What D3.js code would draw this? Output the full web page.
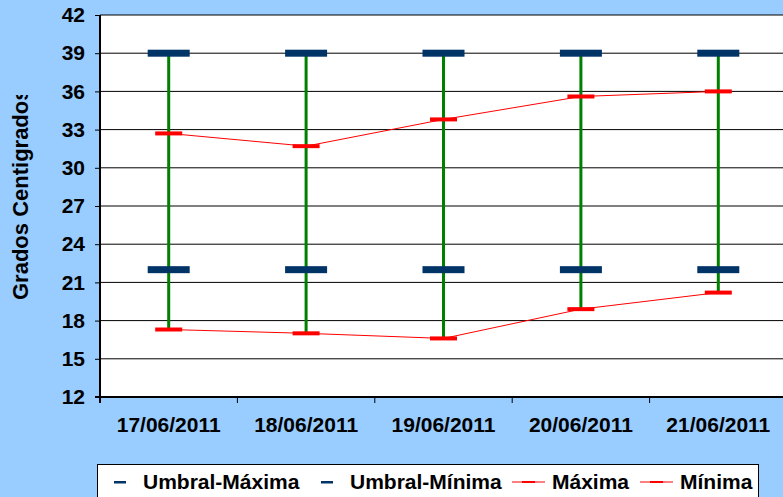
<!doctype html>
<html>
<head>
<meta charset="utf-8">
<script src="https://cdn.jsdelivr.net/npm/d3@7"></script>
<style>
body { margin: 0; background: #99ccff; }
svg { display: block; font-family: "Liberation Sans", Arial, sans-serif; font-weight: bold; }
</style>
</head>
<body>
<div id="chart"></div>
<script>
// chart data
var dates = ["17/06/2011", "18/06/2011", "19/06/2011", "20/06/2011", "21/06/2011"];
var umbralMax = [39, 39, 39, 39, 39];
var umbralMin = [22, 22, 22, 22, 22];
var maxima = [32.7, 31.7, 33.8, 35.6, 36.0];
var minima = [17.3, 17.0, 16.6, 18.9, 20.2];
var yTicks = [12, 15, 18, 21, 24, 27, 30, 33, 36, 39, 42];
var legendLabels = ["Umbral-Máxima", "Umbral-Mínima", "Máxima", "Mínima"];

var W = 783, H = 497;
var margin = {top: 15, left: 100, bottom: 100};
var plotRight = 787;

var svg = d3.select("#chart").append("svg")
    .attr("width", W)
    .attr("height", H);

var x = d3.scaleBand()
    .domain(dates)
    .range([margin.left, plotRight])
    .padding(0);

var y = d3.scaleLinear()
    .domain([12, 42])
    .range([H - margin.bottom, margin.top]);

// plot area
svg.append("rect")
    .attr("x", margin.left)
    .attr("y", margin.top)
    .attr("width", plotRight - margin.left)
    .attr("height", y(12) - margin.top)
    .attr("fill", "#fff");

// gridlines
svg.append("g").selectAll("line")
    .data(yTicks)
  .enter().append("line")
    .attr("x1", margin.left)
    .attr("x2", plotRight)
    .attr("y1", function(d) { return y(d); })
    .attr("y2", function(d) { return y(d); })
    .attr("stroke", "#000")
    .attr("stroke-width", 1);

// y axis
var yAxis = svg.append("g")
    .attr("transform", "translate(" + margin.left + ",0)")
    .call(d3.axisLeft(y).tickValues(yTicks).tickSize(5).tickPadding(10));
yAxis.select(".domain").remove();
yAxis.selectAll("line").attr("stroke", "#000");
yAxis.selectAll("text")
    .style("font-size", "21px")
    .style("font-family", "Liberation Sans, Arial, sans-serif")
    .attr("fill", "#000");

svg.append("line")
    .attr("x1", margin.left).attr("x2", margin.left)
    .attr("y1", margin.top).attr("y2", y(12) + 6)
    .attr("stroke", "#000").attr("stroke-width", 2);

// x axis
svg.append("line")
    .attr("x1", margin.left - 5).attr("x2", plotRight)
    .attr("y1", y(12)).attr("y2", y(12))
    .attr("stroke", "#000").attr("stroke-width", 2);

svg.append("g").selectAll("line")
    .data(dates.slice(1))
  .enter().append("line")
    .attr("x1", function(d) { return x(d); })
    .attr("x2", function(d) { return x(d); })
    .attr("y1", y(12))
    .attr("y2", y(12) + 6)
    .attr("stroke", "#000");

var xAxis = svg.append("g")
    .attr("transform", "translate(0," + y(12) + ")")
    .call(d3.axisBottom(x).tickSize(0).tickPadding(20));
xAxis.select(".domain").remove();
xAxis.selectAll("text")
    .style("font-size", "21px")
    .style("font-family", "Liberation Sans, Arial, sans-serif")
    .attr("fill", "#000");

// y axis title (clipped at the top like the original)
svg.append("clipPath").attr("id", "titleClip")
  .append("rect").attr("x", 0).attr("y", 95).attr("width", 60).attr("height", 300);

svg.append("g")
    .attr("clip-path", "url(#titleClip)")
  .append("text")
    .attr("transform", "translate(28,300) rotate(-90)")
    .attr("text-anchor", "start")
    .style("font-size", "22px")
    .text("Grados Centigrados");

var cx = function(i) { return x(dates[i]) + x.bandwidth() / 2; };

// high-low lines
svg.append("g").selectAll("line")
    .data(dates)
  .enter().append("line")
    .attr("x1", function(d, i) { return cx(i); })
    .attr("x2", function(d, i) { return cx(i); })
    .attr("y1", function(d, i) { return y(Math.max(umbralMax[i], umbralMin[i], maxima[i], minima[i])); })
    .attr("y2", function(d, i) { return y(Math.min(umbralMax[i], umbralMin[i], maxima[i], minima[i])); })
    .attr("stroke", "#008000")
    .attr("stroke-width", 3);

// red lines
var line = d3.line()
    .x(function(d, i) { return cx(i); })
    .y(function(d) { return y(d); });

[maxima, minima].forEach(function(s) {
  svg.append("path")
      .datum(s)
      .attr("d", line)
      .attr("fill", "none")
      .attr("stroke", "#ff0000")
      .attr("stroke-width", 1);
});

// markers
function markers(s, w, h, color) {
  svg.append("g").selectAll("rect")
      .data(s)
    .enter().append("rect")
      .attr("x", function(d, i) { return cx(i) - w / 2; })
      .attr("y", function(d) { return y(d) - h / 2; })
      .attr("width", w)
      .attr("height", h)
      .attr("fill", color);
}
markers(umbralMax, 42, 7, "#003366");
markers(umbralMin, 42, 7, "#003366");
markers(maxima, 27, 4, "#ff0000");
markers(minima, 27, 4, "#ff0000");

// legend
var lg = svg.append("g");
lg.append("rect")
    .attr("x", 97.5).attr("y", 464.5)
    .attr("width", 661).attr("height", 40)
    .attr("fill", "#fff")
    .attr("stroke", "#000");

var legendX = [114, 321, 512, 640];
var textX = [143, 350, 552, 680];
legendLabels.forEach(function(lbl, i) {
  if (i < 2) {
    lg.append("rect")
        .attr("x", legendX[i]).attr("y", 481)
        .attr("width", 12).attr("height", 2.5)
        .attr("fill", "#003366");
  } else {
    lg.append("line")
        .attr("x1", legendX[i]).attr("x2", legendX[i] + 33)
        .attr("y1", 482).attr("y2", 482)
        .attr("stroke", "#ff0000").attr("stroke-width", 1);
    lg.append("rect")
        .attr("x", legendX[i] + 10).attr("y", 481)
        .attr("width", 13).attr("height", 2)
        .attr("fill", "#ff0000");
  }
  lg.append("text")
      .attr("x", textX[i]).attr("y", 489)
      .style("font-size", "21px")
      .text(lbl);
});
</script>
</body>
</html>
